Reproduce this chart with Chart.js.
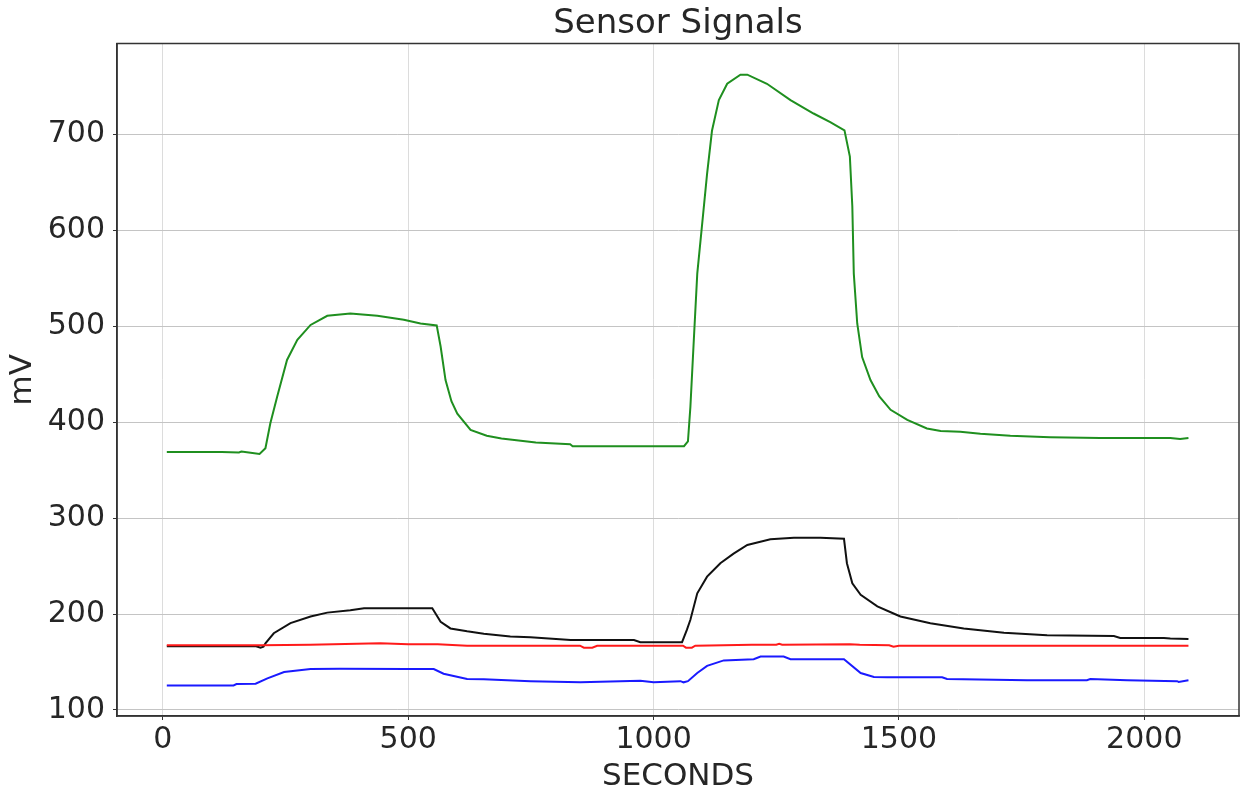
<!doctype html>
<html>
<head>
    <meta charset="UTF-8">
    <title>Sensor Signals</title>
    <script src="https://cdn.jsdelivr.net/npm/chart.js"></script>
    <style>
        html, body { margin: 0; padding: 0; background: #fff; }
        #box { width: 1241px; height: 796px; }
    </style>
</head>
<body>
    <div id="box"><canvas id="grafico"></canvas></div>
    <script>
        // seconds / mV, one pair of arrays per sensor
        var greenSec = [8, 60, 120, 155, 160, 175, 197, 209, 219, 233, 253, 274, 301, 335, 382, 437, 491, 525, 558, 566, 576, 588, 600, 627, 660, 690, 760, 830, 835, 900, 1000, 1062, 1070, 1075, 1082, 1089, 1099, 1109, 1119, 1133, 1150, 1177, 1191, 1231, 1279, 1326, 1360, 1389, 1400, 1405, 1408, 1415, 1425, 1442, 1460, 1483, 1517, 1557, 1585, 1625, 1666, 1727, 1808, 1910, 2053, 2073, 2090];
        var greenMv = [369, 369, 369, 368.5, 369.5, 368.5, 367, 373, 399, 427, 465, 486, 501.5, 511, 513.5, 511, 507, 503, 501, 479, 444, 422, 409, 392, 386, 383, 379, 377, 375, 375, 375, 375, 380, 416, 486, 555, 607, 659, 704, 736, 753, 762.5, 762.5, 753, 736, 722, 713, 704.5, 677, 625, 555, 503, 468, 444, 427, 413, 402.5, 393.5, 391, 390, 388, 386, 384.5, 383.5, 383.5, 382.5, 383.5];

        var redSec = [8, 200, 300, 443, 500, 560, 620, 700, 850, 858, 875, 885, 1000, 1060, 1066, 1078, 1085, 1200, 1250, 1256, 1262, 1400, 1420, 1480, 1489, 1500, 1700, 2090];
        var redMv = [167.5, 167.5, 168, 169.5, 168.5, 168.5, 167, 167, 167, 165, 165, 167, 167, 167, 165, 165, 167, 168, 168, 169, 168, 168.5, 168, 167.5, 166, 167, 167, 167];

        var blackSec = [8, 190, 199, 205, 209, 226, 260, 301, 335, 382, 410, 549, 566, 586, 620, 654, 708, 749, 831, 960, 973, 1058, 1068, 1075, 1089, 1109, 1136, 1163, 1191, 1238, 1286, 1340, 1388, 1394, 1405, 1422, 1456, 1496, 1503, 1564, 1632, 1714, 1802, 1938, 1951, 2040, 2053, 2090];
        var blackMv = [166.5, 166.5, 165, 166, 169.5, 180, 190.5, 197.5, 201.5, 204, 206, 206, 192, 185, 182, 179.5, 176.7, 175.7, 173, 173, 170.7, 170.7, 183.7, 194, 221.6, 239, 253, 263, 272, 278, 279.5, 279.5, 278.5, 253, 232, 220, 208, 199, 197.5, 190.5, 185, 180.6, 178, 177, 175, 175, 174.5, 174];

        var blueSec = [8, 144, 150, 189, 213, 247, 301, 360, 498, 552, 572, 620, 654, 749, 851, 973, 1000, 1055, 1061, 1070, 1089, 1109, 1143, 1204, 1218, 1265, 1279, 1388, 1422, 1449, 1476, 1588, 1598, 1761, 1883, 1890, 1965, 2067, 2070, 2090];
        var blueMv = [125.6, 125.6, 127, 127.4, 133, 139.6, 142.7, 143, 142.7, 142.7, 137.8, 132.2, 132, 130, 128.8, 130.5, 128.8, 130, 128.8, 130, 138.5, 146, 151.7, 153, 155.8, 155.8, 153, 153, 138.5, 134.4, 134, 134, 132.3, 131, 131, 132.3, 131, 130, 129.3, 131];

        var xTicks = [0, 500, 1000, 1500, 2000];
        var yTicks = [100, 200, 300, 400, 500, 600, 700];

        function pontos(sec, mv) {
            return sec.map((s, i) => ({ x: s, y: mv[i] }));
        }

        function serie(sec, mv, cor) {
            return {
                data: pontos(sec, mv),
                borderColor: cor,
                borderWidth: 2,
                pointRadius: 0,
                tension: 0,
                fill: false
            };
        }

        // draws the box round the plot area (top and right spines too)
        var moldura = {
            id: 'moldura',
            afterDraw(chart) {
                var a = chart.chartArea;
                var ctx = chart.ctx;
                ctx.save();
                ctx.strokeStyle = '#333';
                ctx.lineWidth = 1.5;
                ctx.strokeRect(a.left, a.top, a.right - a.left, a.bottom - a.top);
                ctx.restore();
            }
        };

        var fonte = 'DejaVu Sans';
        var corTexto = '#262626';

        new Chart(document.getElementById('grafico'), {
            type: 'line',
            data: {
                datasets: [
                    serie(greenSec, greenMv, '#1f8f1f'),
                    serie(redSec, redMv, '#ff1a1a'),
                    serie(blackSec, blackMv, '#111'),
                    serie(blueSec, blueMv, '#1a1aff')
                ]
            },
            options: {
                responsive: true,
                maintainAspectRatio: false,
                animation: false,
                layout: { padding: { top: 0, right: 2, bottom: 0, left: 0 } },
                plugins: {
                    legend: { display: false },
                    tooltip: { enabled: false },
                    title: {
                        display: true,
                        fullSize: false, // centre over the plot area, like matplotlib
                        text: 'Sensor Signals',
                        color: corTexto,
                        font: { family: fonte, size: 34, weight: 'normal', lineHeight: 1 },
                        padding: { top: 7, bottom: 2.5 }
                    }
                },
                scales: {
                    x: {
                        type: 'linear',
                        min: -93.5,
                        max: 2193,
                        afterBuildTicks: s => { s.ticks = xTicks.map(v => ({ value: v })); },
                        afterFit: s => { s.height = 80; },
                        ticks: {
                            color: corTexto,
                            font: { family: fonte, size: 30 },
                            padding: 2,
                            maxRotation: 0,
                            callback: v => String(v)
                        },
                        grid: { color: '#dcdcdc', tickColor: '#333', tickLength: 4 },
                        border: { color: '#333', width: 1.5 },
                        title: {
                            display: true,
                            text: 'SECONDS',
                            color: corTexto,
                            font: { family: fonte, size: 31 },
                            padding: 0
                        }
                    },
                    y: {
                        type: 'linear',
                        min: 93.7,
                        max: 795,
                        afterBuildTicks: s => { s.ticks = yTicks.map(v => ({ value: v })); },
                        afterFit: s => { s.width = 117; },
                        ticks: {
                            color: corTexto,
                            font: { family: fonte, size: 30 },
                            padding: 8,
                            callback: v => String(v)
                        },
                        grid: { color: '#c4c4c4', tickColor: '#333', tickLength: 4 },
                        border: { color: '#333', width: 1.5 },
                        title: {
                            display: true,
                            text: 'mV',
                            color: corTexto,
                            font: { family: fonte, size: 31 },
                            padding: 4
                        }
                    }
                }
            },
            plugins: [moldura]
        });
    </script>
</body>
</html>
